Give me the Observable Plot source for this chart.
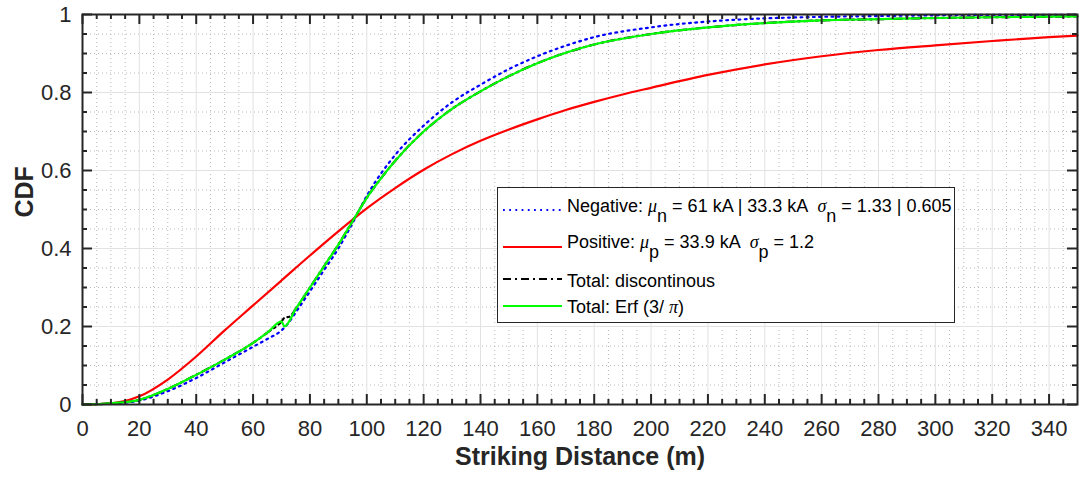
<!DOCTYPE html>
<html><head><meta charset="utf-8">
<script src="https://cdn.jsdelivr.net/npm/d3@7"></script>
<script src="https://cdn.jsdelivr.net/npm/@observablehq/plot@0.6"></script>
<style>
body{margin:0;background:#fff;}
#wrap{position:relative;width:1081px;height:477px;font-family:"Liberation Sans",Arial,Helvetica,sans-serif;}
#legend{position:absolute;left:0;top:0;pointer-events:none;}
</style></head><body><div id="wrap"></div>
<script>
// ---- data ----
const negX = [0,10,20,30,40,50,60,65,70,72,75,80,85,90,95,100,110,120,130,140,150,160,170,180,200,220,240,260,280,300,320,350];
const negY = [0,0.002,0.01,0.034,0.068,0.108,0.148,0.168,0.19,0.205,0.236,0.29,0.345,0.40,0.465,0.535,0.64,0.715,0.775,0.82,0.86,0.893,0.92,0.942,0.967,0.982,0.99,0.994,0.996,0.998,0.999,0.999];

const posX = [0,10,20,30,40,50,60,70,80,90,100,110,120,130,140,150,160,170,180,190,200,220,240,260,280,300,320,340,350];
const posY = [0,0.003,0.021,0.064,0.123,0.19,0.254,0.318,0.382,0.444,0.503,0.555,0.602,0.642,0.676,0.705,0.731,0.755,0.776,0.795,0.812,0.845,0.872,0.893,0.909,0.921,0.932,0.942,0.946];

const discX = [0,10,20,30,40,50,60,65,70,71,73,75,80,85,90,95,100,105,110,120,130,140,150,160,170,180,200,220,240,260,280,300,320,350];
const discY = [0,0.003,0.012,0.04,0.076,0.115,0.158,0.184,0.213,0.222,0.226,0.245,0.30,0.355,0.41,0.47,0.53,0.58,0.625,0.70,0.758,0.803,0.842,0.875,0.902,0.923,0.95,0.967,0.978,0.985,0.988,0.991,0.993,0.995];

const erfX = [0,10,20,30,40,50,60,65,70,71,75,80,85,90,95,100,105,110,120,130,140,150,160,170,180,200,220,240,260,280,300,320,350];
const erfY = [0,0.003,0.012,0.04,0.076,0.115,0.158,0.184,0.213,0.200,0.245,0.30,0.355,0.41,0.47,0.53,0.58,0.625,0.70,0.758,0.803,0.842,0.875,0.902,0.923,0.95,0.967,0.978,0.985,0.988,0.991,0.993,0.995];

const xTickValues = [0,20,40,60,80,100,120,140,160,180,200,220,240,260,280,300,320,340];
const xTickLabels = ["0","20","40","60","80","100","120","140","160","180","200","220","240","260","280","300","320","340"];
const yTickValues = [0,0.2,0.4,0.6,0.8,1];
const yTickLabels = ["0","0.2","0.4","0.6","0.8","1"];
const xLabel = "Striking Distance (m)";
const yLabel = "CDF";

const seriesColors = ["#0000ff","#ff0000","#000000","#00ff00"];
const seriesDash = ["1.8,4.4", null, "8,4,2,4", null];

// ---- build ----
const rows = (xs, ys) => xs.map((x, i) => ({x, y: ys[i]}));
const neg = rows(negX, negY), pos = rows(posX, posY), disc = rows(discX, discY), erf = rows(erfX, erfY);

const xMinor = d3.range(5, 350, 5).filter(v => v % 20 !== 0);
const yMinor = d3.range(1, 20).map(v => v / 20).filter(v => Math.abs(v * 5 - Math.round(v * 5)) > 1e-9);
const xGrid = xTickValues.filter(v => v > 0);
const yGrid = yTickValues.filter(v => v > 0 && v < 1);
const axisColor = "#262626";
const font = "'Liberation Sans', Arial, Helvetica, sans-serif";

const chart = Plot.plot({
  width: 1081, height: 477,
  marginLeft: 82, marginRight: 4, marginTop: 14, marginBottom: 73,
  x: {domain: [0, 350], axis: null},
  y: {domain: [0, 1], axis: null},
  style: {fontFamily: font, background: "white", overflow: "visible"},
  marks: [
    Plot.ruleX(xMinor, {x: d => d, stroke: "#b8b8b8", strokeWidth: 1, strokeDasharray: "1,3"}),
    Plot.ruleY(yMinor, {y: d => d, stroke: "#b8b8b8", strokeWidth: 1, strokeDasharray: "1,3"}),
    Plot.ruleX(xGrid, {x: d => d, stroke: "#e2e2e2", strokeWidth: 1}),
    Plot.ruleY(yGrid, {y: d => d, stroke: "#e2e2e2", strokeWidth: 1}),

    Plot.line(neg, {x: "x", y: "y", stroke: seriesColors[0], strokeWidth: 2.2, strokeDasharray: seriesDash[0], curve: "monotone-x"}),
    Plot.line(pos, {x: "x", y: "y", stroke: seriesColors[1], strokeWidth: 2.2, curve: "monotone-x"}),
    Plot.line(disc, {x: "x", y: "y", stroke: seriesColors[2], strokeWidth: 2.2, strokeDasharray: seriesDash[2], curve: "monotone-x"}),
    Plot.line(erf, {x: "x", y: "y", stroke: seriesColors[3], strokeWidth: 2.2, curve: "monotone-x"}),

    Plot.frame({stroke: axisColor, strokeWidth: 2}),
    // inward ticks, four sides
    Plot.ruleX(xTickValues, {x: d => d, y1: 0, y2: 0, insetBottom: 10, stroke: axisColor, strokeWidth: 2}),
    Plot.ruleX(xTickValues, {x: d => d, y1: 1, y2: 1, insetTop: 10, stroke: axisColor, strokeWidth: 2}),
    Plot.ruleX(xMinor, {x: d => d, y1: 0, y2: 0, insetBottom: 5, stroke: axisColor, strokeWidth: 2}),
    Plot.ruleX(xMinor, {x: d => d, y1: 1, y2: 1, insetTop: 5, stroke: axisColor, strokeWidth: 2}),
    Plot.ruleY(yTickValues, {y: d => d, x1: 0, x2: 0, insetLeft: 10, stroke: axisColor, strokeWidth: 2}),
    Plot.ruleY(yTickValues, {y: d => d, x1: 350, x2: 350, insetRight: 10, stroke: axisColor, strokeWidth: 2}),
    Plot.ruleY(yMinor, {y: d => d, x1: 0, x2: 0, insetLeft: 5, stroke: axisColor, strokeWidth: 2}),
    Plot.ruleY(yMinor, {y: d => d, x1: 350, x2: 350, insetRight: 5, stroke: axisColor, strokeWidth: 2}),

    Plot.text(xTickValues, {x: d => d, y: 0, dy: 24, text: (d, i) => xTickLabels[i], fontSize: 22, fill: axisColor}),
    Plot.text(yTickValues, {x: 0, y: d => d, dx: -11, textAnchor: "end", text: (d, i) => yTickLabels[i], fontSize: 22, fill: axisColor}),
    Plot.text([xLabel], {frameAnchor: "bottom", dy: 60, text: d => d, fontSize: 25, fontWeight: "bold", fill: axisColor}),
    Plot.text([yLabel], {frameAnchor: "left", dx: -58, dy: 8, rotate: -90, text: d => d, fontSize: 25, fontWeight: "bold", fill: axisColor})
  ]
});
document.getElementById("wrap").appendChild(chart);

// ---- legend ----
const legendEntries = [
  [{t: "Negative: "}, {t: "\u03bc", g: 1}, {t: "n", s: 1}, {t: " = 61 kA | 33.3 kA  "}, {t: "\u03c3", g: 1}, {t: "n", s: 1}, {t: " = 1.33 | 0.605"}],
  [{t: "Positive: "}, {t: "\u03bc", g: 1}, {t: "p", s: 1}, {t: " = 33.9 kA  "}, {t: "\u03c3", g: 1}, {t: "p", s: 1}, {t: " = 1.2"}],
  [{t: "Total: discontinous"}],
  [{t: "Total: Erf (3/ "}, {t: "\u03c0", g: 1}, {t: ")"}]
];
const lineYs = [210, 247, 279, 306];
const textYs = [212, 248, 287, 313];

const ns = "http://www.w3.org/2000/svg";
const lg = document.createElementNS(ns, "svg");
lg.setAttribute("id", "legend");
lg.setAttribute("width", 1081); lg.setAttribute("height", 477);
const rect = document.createElementNS(ns, "rect");
rect.setAttribute("x", 497.5); rect.setAttribute("y", 187.5);
rect.setAttribute("width", 457); rect.setAttribute("height", 135);
rect.setAttribute("fill", "white"); rect.setAttribute("stroke", axisColor); rect.setAttribute("stroke-width", 1);
lg.appendChild(rect);
legendEntries.forEach((segs, k) => {
  const ln = document.createElementNS(ns, "line");
  ln.setAttribute("x1", 503); ln.setAttribute("x2", 562);
  ln.setAttribute("y1", lineYs[k]); ln.setAttribute("y2", lineYs[k]);
  ln.setAttribute("stroke", seriesColors[k]); ln.setAttribute("stroke-width", 2.2);
  if (seriesDash[k]) ln.setAttribute("stroke-dasharray", seriesDash[k]);
  lg.appendChild(ln);
  const tx = document.createElementNS(ns, "text");
  tx.setAttribute("x", 567); tx.setAttribute("y", textYs[k]);
  tx.setAttribute("font-size", 18); tx.setAttribute("fill", "#000");
  tx.setAttribute("font-family", font);
  tx.setAttribute("style", "white-space:pre");
  let shifted = false;
  segs.forEach(sg => {
    const ts = document.createElementNS(ns, "tspan");
    ts.textContent = sg.t;
    if (sg.g) { ts.setAttribute("font-style", "italic"); ts.setAttribute("font-family", "'Liberation Serif', 'DejaVu Serif', serif"); }
    if (sg.s && !shifted) { ts.setAttribute("dy", 10); shifted = true; }
    else if (!sg.s && shifted) { ts.setAttribute("dy", -10); shifted = false; }
    tx.appendChild(ts);
  });
  lg.appendChild(tx);
});
document.getElementById("wrap").appendChild(lg);
</script>
</body></html>
